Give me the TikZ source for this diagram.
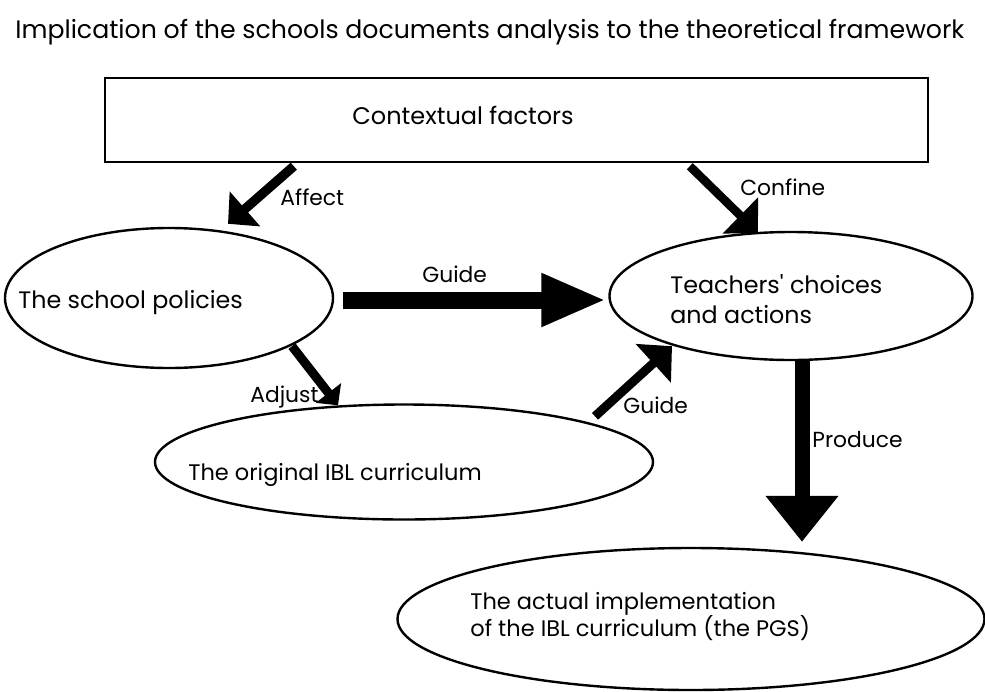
\documentclass[tikz,border=0pt]{standalone}
\usepackage{fontspec}
\setmainfont{Poppins}
\usetikzlibrary{arrows.meta,shapes.geometric}

\tikzset{
  oval/.style={draw, line width=1.2pt, ellipse, inner sep=0pt},
  txt/.style={inner sep=0pt, anchor=base west, font=\fontsize{11.9}{14}\selectfont},
  lbl/.style={inner sep=0pt, anchor=base west, font=\fontsize{10.9}{13}\selectfont},
  blk/.style n args={3}{line width=#1, -{Triangle[length=#2, width=#3]}},
}

\begin{document}
\begin{tikzpicture}[x=0.5pt, y=-0.5pt]
\useasboundingbox (0,0) rectangle (985,691);

% title
\node[txt, font=\fontsize{12.6}{15}\selectfont] (title) at (15,38) {Implication of the schools documents analysis to the theoretical framework};

% boxes
\node[draw, line width=1.2pt, minimum width=411.5pt, minimum height=42pt, inner sep=0pt] (ctx) at (516.5,120) {};
\node[oval, minimum width=164pt, minimum height=70pt] (pol) at (169,298) {};
\node[oval, minimum width=181.5pt, minimum height=64pt] (tea) at (791,296) {};
\node[oval, minimum width=249pt, minimum height=57.5pt] (ibl) at (404,462) {};
\node[oval, minimum width=293.5pt, minimum height=71pt] (act) at (691,619) {};

% texts
\node[txt, font=\fontsize{12}{14}\selectfont] (ctxlbl) at (352,124) {Contextual factors};
\node[txt] (pollbl) at (18,308) {The school policies};
\node[txt, anchor=north west, align=left, font=\fontsize{11.9}{15}\selectfont] (tealbl) at (670,274) {Teachers\textquotesingle{} choices\\and actions};
\node[txt, font=\fontsize{11.25}{14}\selectfont] (ibllbl) at (188,480) {The original IBL curriculum};
\node[txt, anchor=north west, align=left, font=\fontsize{11.25}{13.5}\selectfont] (actlbl) at (470,592) {The actual implementation\\of the IBL curriculum (the PGS)};

% arrows
\draw[blk={4.7pt}{11.3pt}{22.6pt}] ([shift={(190,3)}]ctx.south west) -- ([shift={(59,-3)}]pol.north);
\draw[blk={4.3pt}{12.4pt}{24.7pt}] ([shift={(586,3)}]ctx.south west) -- ([shift={(-33,2)}]tea.north);
\draw[blk={8.5pt}{32.5pt}{24.5pt}] ([shift={(9,2)}]pol.east) -- ([shift={(-2,4)}]tea.west);
\draw[blk={4.5pt}{7.8pt}{15.6pt}] ([shift={(123,-23)}]pol.south) -- ([shift={(-66,2)}]ibl.north);
\draw[blk={4.5pt}{12.7pt}{25.5pt}] ([shift={(191,13)}]ibl.north) -- ([shift={(-119,-15)}]tea.south);
\draw[blk={7.5pt}{23pt}{35pt}] ([shift={(11,-1)}]tea.south) -- ([shift={(111,-5)}]act.north);

% arrow labels
\node[lbl] (affect) at (280,205) {Affect};
\node[lbl] (confine) at (740,195) {Confine};
\node[lbl] (guide1) at (422,282) {Guide};
\node[lbl] (adjust) at (250,402) {Adjust};
\node[lbl] (guide2) at (623,413) {Guide};
\node[lbl] (produce) at (812,447) {Produce};
\end{tikzpicture}
\end{document}
